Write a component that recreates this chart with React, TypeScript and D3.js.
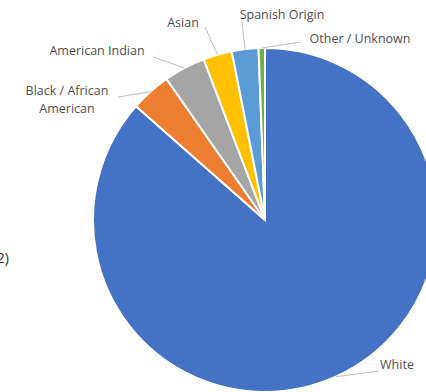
import React from "react";
import * as d3 from "d3";

const categories = ["White", "Black / African American", "American Indian", "Asian", "Spanish Origin", "Other / Unknown"];
const values = [86.5, 3.8, 3.9, 2.7, 2.5, 0.6];
const colors = ["#4472C4", "#ED7D31", "#A5A5A5", "#FFC000", "#5B9BD5", "#70AD47"];

// label layout: lines of text, anchor position, and leader-line elbow
const labelLines = [["White"], ["Black / African", "American"], ["American Indian"], ["Asian"], ["Spanish Origin"], ["Other / Unknown"]];
const labelPos: [number, number][] = [[397, 369], [67, 95], [97, 55], [183, 27], [282, 19], [360, 43]];
const labelAnchor: [number, number][] = [[379, 371], [118, 97], [153, 57], [205, 27], [242, 22], [301, 42]];

export default function App() {
  const W = 426, H = 392;
  const cx = 265, cy = 220, r = 172;
  const pie = d3.pie<number>().sort(null).startAngle(0).endAngle(2 * Math.PI);
  const arcs = pie(values);
  const arc = d3.arc<d3.PieArcDatum<number>>().innerRadius(0).outerRadius(r);
  const edge = (a: d3.PieArcDatum<number>) => {
    const m = (a.startAngle + a.endAngle) / 2;
    return [cx + r * Math.sin(m), cy - r * Math.cos(m)];
  };
  return (
    <svg width={W} height={H} style={{ position: "absolute", left: 0, top: 0, background: "#fff" }}>
      <g transform={`translate(${cx},${cy})`}>
        {arcs.map((a, i) => (
          <path key={i} d={arc(a) || ""} fill={colors[i]} stroke="#fff" strokeWidth={2} />
        ))}
      </g>
      {arcs.map((a, i) => {
        const [ex, ey] = edge(a);
        const [ax, ay] = labelAnchor[i];
        return <line key={"l" + i} x1={ex} y1={ey} x2={ax} y2={ay} stroke="#BFBFBF" strokeWidth={1} />;
      })}
      {categories.map((c, i) => (
        <text key={"t" + i} x={labelPos[i][0]} y={labelPos[i][1]} textAnchor="middle"
          fontFamily="'Open Sans', sans-serif" fontSize={12.5} fill="#505050">
          {labelLines[i].map((ln, j) => (
            <tspan key={j} x={labelPos[i][0]} dy={j === 0 ? 0 : 18}>{ln}</tspan>
          ))}
        </text>
      ))}
      <text x={9} y={263} textAnchor="end" fontFamily="'Open Sans', sans-serif" fontSize={14} fill="#333">2)</text>
    </svg>
  );
}
